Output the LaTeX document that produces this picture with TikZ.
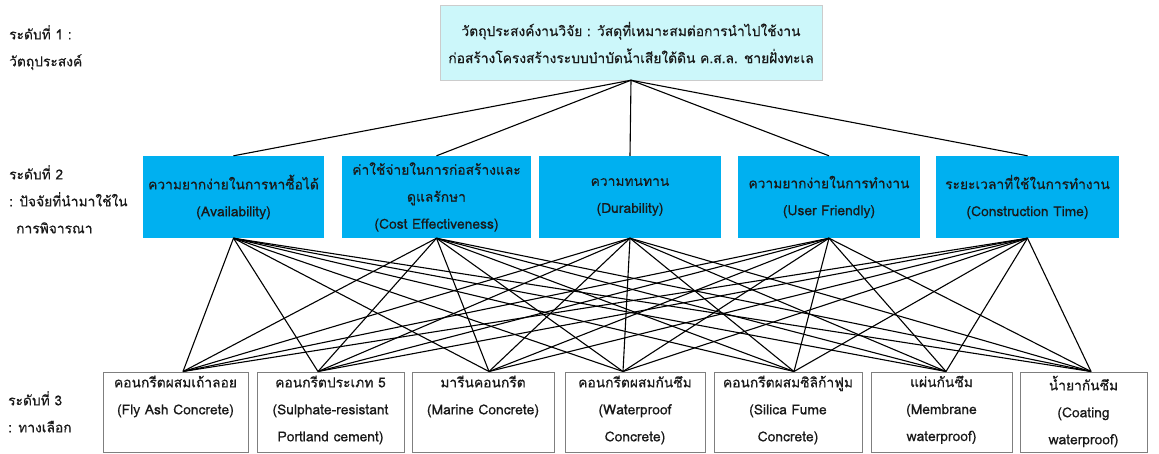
\documentclass[tikz,border=0pt]{standalone}
\usepackage{fontspec}
\setmainfont[Script=Thai, FakeBold=0.5]{Loma}
\usetikzlibrary{calc}
\definecolor{topfill}{HTML}{CCF7FA}
\definecolor{midfill}{HTML}{00B0F0}
\definecolor{boxgray}{HTML}{7F7F7F}
\begin{document}
\begin{tikzpicture}[x=1pt,y=-1pt,
  txt/.style={font=\fontsize{13.8}{27}\selectfont, align=center, text=black!90},
  topbox/.style={txt, draw=black!20, fill=topfill, minimum width=382pt, minimum height=75pt, inner sep=0pt},
  midbox/.style={txt, fill=midfill, minimum height=82pt, inner sep=0pt},
  botbox/.style={draw=boxgray, line width=1pt, fill=white, minimum height=80pt, inner sep=0pt},
  bottxt/.style={txt, anchor=north, inner sep=0pt},
  lvl/.style={font=\fontsize{13.8}{27}\selectfont, align=left, anchor=north west, inner sep=0pt, text=black!90},
  conn/.style={line width=1.1pt, black}
]
\useasboundingbox (0,0) rectangle (1159,453);
% level labels
\node[lvl] (l1) at (9,25) {ระดับที่ 1 :\\วัตถุประสงค์};
\node[lvl] (l2) at (9,165) {ระดับที่ 2\\: ปัจจัยที่นำมาใช้ใน\\\hspace*{7pt}การพิจารณา};
\node[lvl] (l3) at (8,391) {ระดับที่ 3\\: ทางเลือก};
% top
\node[topbox] (top) at (631,42.5) {วัตถุประสงค์งานวิจัย : วัสดุที่เหมาะสมต่อการนำไปใช้งาน\\ก่อสร้างโครงสร้างระบบบำบัดน้ำเสียใต้ดิน ค.ส.ล. ชายฝั่งทะเล};
% middle
\node[midbox, minimum width=181pt] (m1) at (233.5,197) {ความยากง่ายในการหาซื้อได้\\(Availability)};
\node[midbox, minimum width=189pt] (m2) at (436.5,197) {ค่าใช้จ่ายในการก่อสร้างและ\\ดูแลรักษา\\(Cost Effectiveness)};
\node[midbox, minimum width=182pt] (m3) at (630,197) {ความทนทาน\\(Durability)};
\node[midbox, minimum width=182pt] (m4) at (829,197) {ความยากง่ายในการทำงาน\\(User Friendly)};
\node[midbox, minimum width=183pt] (m5) at (1027.5,197) {ระยะเวลาที่ใช้ในการทำงาน\\(Construction Time)};
% bottom boxes
\node[botbox, minimum width=145pt] (b1) at (175.5,412) {};
\node[botbox, minimum width=147pt] (b2) at (330.5,412) {};
\node[botbox, minimum width=142pt] (b3) at (483,412) {};
\node[botbox, minimum width=140pt] (b4) at (635,412) {};
\node[botbox, minimum width=148pt] (b5) at (788,412) {};
\node[botbox, minimum width=141pt] (b6) at (941.5,412) {};
\node[botbox, minimum width=127pt] (b7) at (1083.5,412) {};
\node[bottxt] (t1) at ([yshift=-4pt]b1.north) {คอนกรีตผสมเถ้าลอย\\(Fly Ash Concrete)};
\node[bottxt] (t2) at ([yshift=-4pt]b2.north) {คอนกรีตประเภท 5\\(Sulphate-resistant\\Portland cement)};
\node[bottxt] (t3) at ([yshift=-4pt]b3.north) {มารีนคอนกรีต\\(Marine Concrete)};
\node[bottxt] (t4) at ([yshift=-4pt]b4.north) {คอนกรีตผสมกันซึม\\(Waterproof\\Concrete)};
\node[bottxt] (t5) at ([yshift=-4pt]b5.north) {คอนกรีตผสมซิลิก้าฟูม\\(Silica Fume\\Concrete)};
\node[bottxt] (t6) at ([yshift=-4pt]b6.north) {แผ่นกันซึม\\(Membrane\\waterproof)};
\node[bottxt] (t7) at ([yshift=-4pt]b7.north) {น้ำยากันซึม\\(Coating\\waterproof)};
% convergence points on bottom boxes
\coordinate (p1) at ([xshift=7.5pt]b1.north);
\coordinate (p2) at ([xshift=-12.5pt]b2.north);
\coordinate (p3) at ([xshift=6pt]b3.north);
\coordinate (p4) at ([xshift=-12pt]b4.north);
\coordinate (p5) at ([xshift=6pt]b5.north);
\coordinate (p6) at ([xshift=4.5pt]b6.north);
\coordinate (p7) at ([xshift=7.5pt]b7.north);
% connectors
\foreach \m in {1,...,5} {
  \draw[conn] (top.south) -- (m\m.north);
  \foreach \b in {1,...,7} {
    \draw[conn] (m\m.south) -- (p\b);
  }
}
\end{tikzpicture}
\end{document}
